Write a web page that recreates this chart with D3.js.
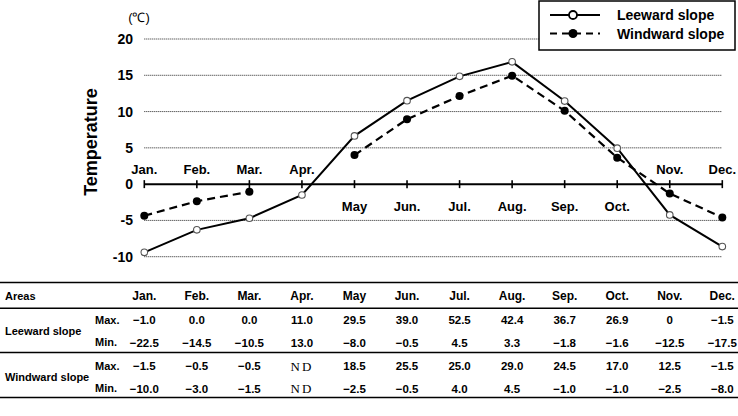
<!DOCTYPE html>
<html>
<head>
<meta charset="utf-8">
<script src="https://cdn.jsdelivr.net/npm/d3@7"></script>
<style>
  html, body { margin: 0; padding: 0; background: #fff; }
  svg { display: block; font-family: "Liberation Sans", Arial, sans-serif; }
</style>
</head>
<body>
<svg id="chart" width="738" height="416"></svg>
<script>
// ---------- data ----------
const months = ["Jan.", "Feb.", "Mar.", "Apr.", "May", "Jun.", "Jul.", "Aug.", "Sep.", "Oct.", "Nov.", "Dec."];
const leeward = [-9.4, -6.3, -4.7, -1.5, 6.65, 11.5, 14.85, 16.85, 11.45, 4.95, -4.25, -8.6];
const windward = [-4.35, -2.35, -1.05, null, 4.0, 8.95, 12.15, 14.95, 10.1, 3.65, -1.3, -4.6];
const yTicks = [20, 15, 10, 5, 0, -5, -10];
const seriesNames = ["Leeward slope", "Windward slope"];

const tableHeader = "Areas";
const leewardMax = ["\u22121.0", "0.0", "0.0", "11.0", "29.5", "39.0", "52.5", "42.4", "36.7", "26.9", "0", "\u22121.5"];
const leewardMin = ["\u221222.5", "\u221214.5", "\u221210.5", "13.0", "\u22128.0", "\u22120.5", "4.5", "3.3", "\u22121.8", "\u22121.6", "\u221212.5", "\u221217.5"];
const windwardMax = ["\u22121.5", "\u22120.5", "\u22120.5", "ND", "18.5", "25.5", "25.0", "29.0", "24.5", "17.0", "12.5", "\u22121.5"];
const windwardMin = ["\u221210.0", "\u22123.0", "\u22121.5", "ND", "\u22122.5", "\u22120.5", "4.0", "4.5", "\u22121.0", "\u22121.0", "\u22122.5", "\u22128.0"];

// ---------- scales ----------
const svg = d3.select("#chart");
const x = d3.scalePoint().domain(months).range([144.3, 722.3]);
const y = d3.scaleLinear().domain([-10, 20]).range([256.7, 39]);

// ---------- grid ----------
const grid = svg.append("g");
grid.selectAll("line").data(yTicks.filter(d => d !== 0)).join("line")
  .attr("x1", x.range()[0]).attr("x2", x.range()[1])
  .attr("y1", d => y(d)).attr("y2", d => y(d))
  .attr("stroke", "#222").attr("stroke-width", 1).attr("stroke-dasharray", "1,1");

// y tick labels
svg.append("g").selectAll("text").data(yTicks).join("text")
  .attr("x", 133).attr("y", d => y(d)).attr("dy", "0.36em")
  .attr("text-anchor", "end").attr("font-size", 14).attr("font-weight", "bold")
  .text(d => d);

svg.append("text").attr("x", 139).attr("y", 17.5).attr("dy", "0.36em")
  .attr("text-anchor", "middle").attr("font-size", 13).text("(℃)");

svg.append("text")
  .attr("transform", `translate(97,142) rotate(-90)`)
  .attr("text-anchor", "middle").attr("font-size", 18).attr("font-weight", "bold")
  .text("Temperature");

// ---------- zero axis ----------
const axisG = svg.append("g").attr("transform", `translate(0,${y(0)})`);
axisG.append("line").attr("x1", x.range()[0]).attr("x2", x.range()[1])
  .attr("stroke", "#000").attr("stroke-width", 2);
axisG.selectAll("line.tick").data(months).join("line").attr("class", "tick")
  .attr("x1", d => x(d)).attr("x2", d => x(d)).attr("y1", -4).attr("y2", 4)
  .attr("stroke", "#000").attr("stroke-width", 1.6);
axisG.selectAll("text").data(months).join("text")
  .attr("x", d => x(d))
  .attr("y", (d, i) => leeward[i] < 0 ? -15 : 22)
  .attr("dy", "0.36em")
  .attr("text-anchor", "middle").attr("font-size", 13).attr("font-weight", "bold")
  .text(d => d);

// ---------- lines ----------
const line = d3.line()
  .defined(d => d.v !== null)
  .x(d => x(d.m)).y(d => y(d.v));
const lee = months.map((m, i) => ({ m, v: leeward[i] }));
const win = months.map((m, i) => ({ m, v: windward[i] }));

svg.append("path").datum(lee).attr("d", line)
  .attr("fill", "none").attr("stroke", "#000").attr("stroke-width", 2);
svg.append("path").datum(win).attr("d", line)
  .attr("fill", "none").attr("stroke", "#000").attr("stroke-width", 2.2)
  .attr("stroke-dasharray", "8,5");

svg.append("g").selectAll("circle").data(lee).join("circle")
  .attr("cx", d => x(d.m)).attr("cy", d => y(d.v)).attr("r", 3.3)
  .attr("fill", "#fff").attr("stroke", "#555").attr("stroke-width", 1.1);
svg.append("g").selectAll("circle").data(win.filter(d => d.v !== null)).join("circle")
  .attr("cx", d => x(d.m)).attr("cy", d => y(d.v)).attr("r", 4)
  .attr("fill", "#000");

// ---------- legend ----------
const lg = svg.append("g");
lg.append("rect").attr("x", 539).attr("y", 1).attr("width", 196).attr("height", 49)
  .attr("fill", "#fff").attr("stroke", "#000").attr("stroke-width", 1.5);
seriesNames.forEach((name, i) => {
  const yy = 15 + i * 18.5;
  lg.append("line").attr("x1", 550).attr("x2", 600).attr("y1", yy).attr("y2", yy)
    .attr("stroke", "#000").attr("stroke-width", 2)
    .attr("stroke-dasharray", i === 0 ? null : "7,5");
  lg.append("circle").attr("cx", 573).attr("cy", yy).attr("r", i === 0 ? 4 : 4.5)
    .attr("fill", i === 0 ? "#fff" : "#000").attr("stroke", "#000").attr("stroke-width", i === 0 ? 1.8 : 0);
  lg.append("text").attr("x", 617).attr("y", yy).attr("dy", "0.36em")
    .attr("font-size", 14).attr("font-weight", "bold").text(name);
});

// ---------- table ----------
const tb = svg.append("g").attr("font-size", 11.5).attr("font-weight", "bold");
[282.5, 308.3, 352.5, 397.5].forEach(yy => {
  tb.append("line").attr("x1", 0).attr("x2", 738).attr("y1", yy).attr("y2", yy)
    .attr("stroke", "#000").attr("stroke-width", 1.6);
});
tb.append("text").attr("x", 5).attr("y", 296).attr("dy", "0.36em").attr("font-size", 11).text(tableHeader);
tb.selectAll("text.hdr").data(months).join("text").attr("class", "hdr")
  .attr("x", d => x(d)).attr("y", 296).attr("dy", "0.36em").attr("text-anchor", "middle")
  .attr("font-size", 12).text(d => d);

const rows = [
  { area: seriesNames[0], sub: "Max.", vals: leewardMax, y: 320 },
  { area: seriesNames[0], sub: "Min.", vals: leewardMin, y: 342.5 },
  { area: seriesNames[1], sub: "Max.", vals: windwardMax, y: 366 },
  { area: seriesNames[1], sub: "Min.", vals: windwardMin, y: 388.5 }
];
[[seriesNames[0], 331.5], [seriesNames[1], 377.5]].forEach(([n, yy]) => {
  tb.append("text").attr("x", 5).attr("y", yy).attr("dy", "0.36em").attr("font-size", 11).text(n);
});
rows.forEach(r => {
  tb.append("text").attr("x", 95).attr("y", r.y).attr("dy", "0.36em").attr("font-size", 11).text(r.sub);
  tb.append("g").selectAll("text").data(r.vals).join("text")
    .attr("x", (d, i) => x(months[i])).attr("y", r.y).attr("dy", "0.36em")
    .attr("text-anchor", "middle")
    .attr("font-family", d => d === "ND" ? "'Liberation Serif', serif" : null)
    .attr("font-weight", d => d === "ND" ? "normal" : null)
    .attr("font-size", d => d === "ND" ? 13 : null)
    .attr("letter-spacing", d => d === "ND" ? "2px" : null)
    .text(d => d);
});
</script>
</body>
</html>
